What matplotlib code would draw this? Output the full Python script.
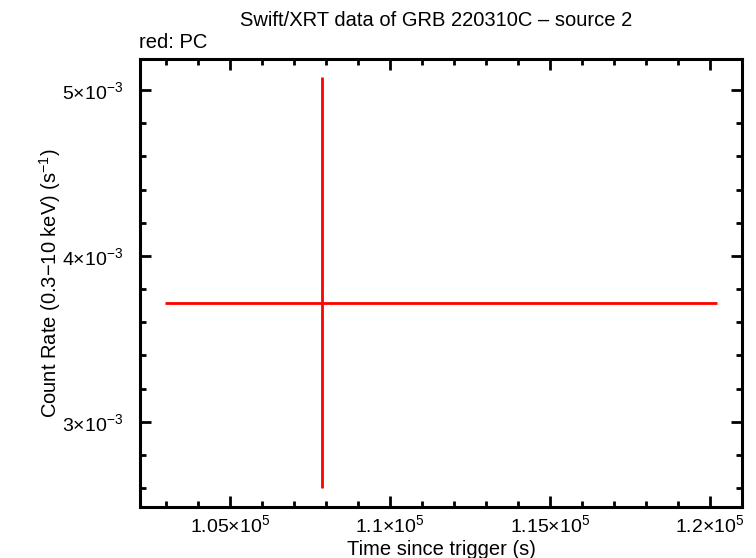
import matplotlib
matplotlib.use("Agg")
import matplotlib.pyplot as plt
from matplotlib.ticker import MultipleLocator

plt.rcParams['font.family'] = ['Liberation Sans', 'DejaVu Sans']
plt.rcParams['mathtext.fontset'] = 'custom'
plt.rcParams['mathtext.rm'] = 'Liberation Sans'
plt.rcParams['mathtext.it'] = 'Liberation Sans'
plt.rcParams['mathtext.bf'] = 'Liberation Sans'

# Data (PC mode)
time = [107870.0]
time_err_lo = [4890.0]
time_err_hi = [12360.0]
rate = [3.715e-3]
rate_err_lo = [1.114e-3]
rate_err_hi = [1.365e-3]

x_ticks = [1.05e5, 1.1e5, 1.15e5, 1.2e5]
x_tick_labels = ["1.05", "1.1", "1.15", "1.2"]
y_ticks = [3e-3, 4e-3, 5e-3]
y_tick_labels = ["3", "4", "5"]

fig = plt.figure(figsize=(7.56, 5.58), dpi=100)
ax = fig.add_axes([140.4/756, 1-507.3/558, (742-140.4)/756, (507.3-58.5)/558])

ax.errorbar(time, rate, xerr=[time_err_lo, time_err_hi],
            yerr=[rate_err_lo, rate_err_hi], fmt='none', ecolor='#ff0000',
            elinewidth=2.0, capsize=0)

ax.set_xlim(102209, 121012)
ax.set_ylim(2.484e-3, 5.191e-3)

ax.set_xticks(x_ticks)
ax.set_xticklabels([r"$%s{\times}10^{5}$" % s for s in x_tick_labels])
ax.set_yticks(y_ticks)
ax.set_yticklabels([r"$%s{\times}10^{-3}$" % s for s in y_tick_labels])
ax.xaxis.set_minor_locator(MultipleLocator(1000))
ax.yaxis.set_minor_locator(MultipleLocator(0.2e-3))

ax.tick_params(which='both', direction='in', top=True, right=True,
               width=2, labelsize=14, colors='black')
ax.tick_params(axis='y', which='major', length=8, pad=12.3)
ax.tick_params(axis='x', which='major', length=8, pad=5)
ax.tick_params(which='minor', length=4)
for s in ax.spines.values():
    s.set_linewidth(2.2)

ax.set_xlabel("Time since trigger (s)", fontsize=14.5, labelpad=3)
ax.set_ylabel(r"Count Rate (0.3$-$10 keV) (s$^{-1}$)", fontsize=14.5, labelpad=-0.5)

fig.text(436/756, 1-20/558, "Swift/XRT data of GRB 220310C \u2013 source 2",
         ha='center', va='center', fontsize=14.5)
fig.text(139/756, 1-42/558, "red: PC", ha='left', va='center', fontsize=14.5)

fig.savefig("out.png", dpi=100)
